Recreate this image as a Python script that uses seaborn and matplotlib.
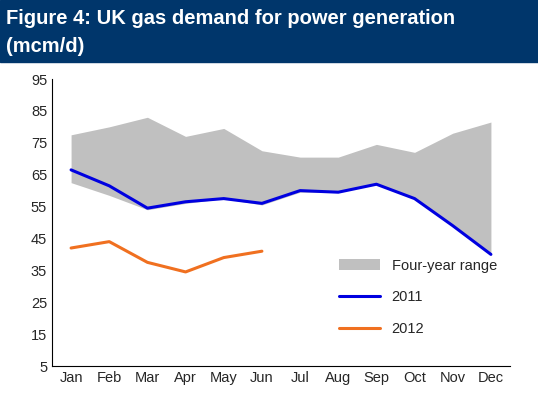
import matplotlib
matplotlib.use("Agg")
import matplotlib.pyplot as plt
import seaborn as sns
import pandas as pd

months = ["Jan","Feb","Mar","Apr","May","Jun","Jul","Aug","Sep","Oct","Nov","Dec"]
range_hi = [77.5, 80, 83, 77, 79.5, 72.5, 70.5, 70.5, 74.5, 72, 78, 81.5]
range_lo = [62.5, 58.5, 54, 56, 57.5, 55.5, 59.5, 59.5, 62, 57.5, 49, 40]
y2011 = [66.5, 61.5, 54.5, 56.5, 57.5, 56, 60, 59.5, 62, 57.5, 49, 40]
y2012 = [42, 44, 37.5, 34.5, 39, 41]

sns.set_style("white")
plt.rcParams['font.family'] = ['Liberation Sans', 'DejaVu Sans']
fig = plt.figure(figsize=(5.38, 4.03), dpi=100)
fig.patches.append(plt.Rectangle((0, 1-62/403), 1, 62/403, transform=fig.transFigure,
                                 color="#00366b", zorder=0))
fig.text(0.012, 1-18/403, "Figure 4: UK gas demand for power generation", color="white",
         fontsize=14.5, fontweight="bold", va="center")
fig.text(0.012, 1-46/403, "(mcm/d)", color="white", fontsize=14.5, fontweight="bold", va="center")

ax = fig.add_axes([52/538, 1-366/403, 458/538, (366-79)/403])
x = list(range(len(months)))
ax.fill_between(x, range_lo, range_hi, color="#c0c0c0", lw=0, label="Four-year range")
sns.lineplot(x=x, y=y2011, ax=ax, color="#0000e0", lw=2.2, label="2011")
sns.lineplot(x=x[:len(y2012)], y=y2012, ax=ax, color="#f07020", lw=2.2, label="2012")
ax.set_ylim(5, 95)
ax.set_xlim(-0.5, 11.5)
ax.set_yticks(range(5, 96, 10))
ax.set_xticks(x)
ax.set_xticklabels(months)
ax.tick_params(labelsize=10.5, length=0)
for s in ["top", "right"]:
    ax.spines[s].set_visible(False)
for s in ["left", "bottom"]:
    ax.spines[s].set_color("black")
    ax.spines[s].set_linewidth(0.8)
leg = ax.legend(loc="lower right", bbox_to_anchor=(1.0, 0.06), frameon=False, fontsize=10.5,
                handlelength=2.8, labelspacing=1.2)
fig.savefig("out.png", dpi=100)
